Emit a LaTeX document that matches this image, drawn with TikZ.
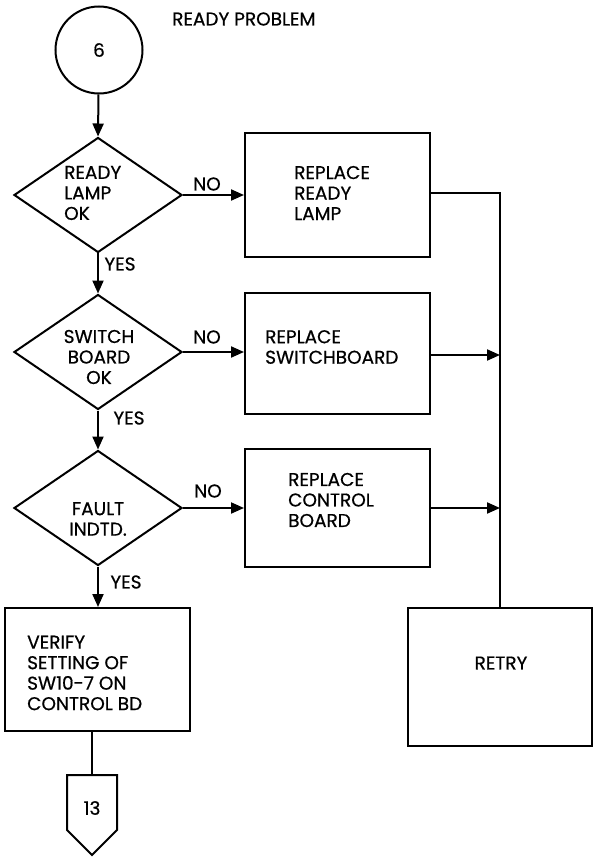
\documentclass[tikz,border=0pt]{standalone}
\usepackage{fontspec}
\setmainfont{Poppins}[UprightFeatures={FakeBold=0.6}]
\usetikzlibrary{shapes.geometric,arrows.meta}
\begin{document}
\begin{tikzpicture}[x=1pt,y=-1pt,
  every node/.style={font=\fontsize{18.5}{20.5}\selectfont},
  ln/.style={line width=2pt},
  arr/.style={ln,-{Triangle[length=13pt,width=11pt]}},
  box/.style={draw,line width=2pt,rectangle,inner sep=0pt},
  dia/.style={draw,line width=2pt,diamond,inner sep=0pt,minimum width=168pt,minimum height=115pt},
  txt/.style={align=left,inner sep=0pt},
  lbl/.style={inner sep=0pt}]
\useasboundingbox (0,0) rectangle (597,866);
% title
\node[lbl,anchor=west] (title) at (172,19) {READY PROBLEM};
% start circle
\node[draw,circle,line width=2pt,minimum size=87pt,inner sep=0pt] (start) at (99,50) {6};
% decisions
\node[dia] (d1) at (98,195) {};
\node[dia] (d2) at (98,352) {};
\node[dia] (d3) at (98,508) {};
\node[txt,anchor=west] (t1) at (64,193) {READY\\LAMP\\OK};
\node[txt,align=center] (t2) at (99,357) {SWITCH\\BOARD\\OK};
\node[txt,align=center] (t3) at (98,519) {FAULT\\INDTD.};
% boxes
\node[box,minimum width=185pt,minimum height=124pt] (b1) at (337.5,195) {};
\node[box,minimum width=185pt,minimum height=121pt] (b2) at (337.5,353.5) {};
\node[box,minimum width=185pt,minimum height=118pt] (b3) at (337.5,508) {};
\node[txt,anchor=west] (bt1) at (294,193) {REPLACE\\READY\\LAMP};
\node[txt,anchor=west] (bt2) at (265,347) {REPLACE\\SWITCHBOARD};
\node[txt,anchor=west] (bt3) at (288,500) {REPLACE\\CONTROL\\BOARD};
\node[box,minimum width=184pt,minimum height=138pt] (retry) at (500,677) {};
\node[lbl] (rt) at (501,663) {RETRY};
\node[box,minimum width=185pt,minimum height=123pt] (verify) at (97.5,669.5) {};
\node[txt,anchor=west] (vt) at (27,673) {VERIFY\\SETTING OF\\SW10-7 ON\\CONTROL BD};
% off-page connector
\draw[ln,line join=miter] (67,775) -- (117,775) -- (117,830) -- (92,855) -- (67,830) -- cycle;
\coordinate (conn) at (92,775);
\node[lbl] (n13) at (92,808) {13};
% junction coordinates
\coordinate (j1) at (500,193);
\coordinate (j2) at (500,355);
\coordinate (j3) at (500,508);
% connectors
\draw[arr] (start) -- (d1.north);
\draw[arr] (d1.south) -- (d2.north);
\draw[arr] (d2.south) -- (d3.north);
\draw[arr] (d3.south) -- (verify.north -| d3.south);
\draw[arr] (d1.east) -- (b1.west |- d1.east);
\draw[arr] (d2.east) -- (b2.west |- d2.east);
\draw[arr] (d3.east) -- (b3.west |- d3.east);
\draw[ln] (b1.east |- j1) -- (j1) -- (retry.north -| j1);
\draw[arr] (b2.east |- j2) -- (j2);
\draw[arr] (b3.east |- j3) -- (j3);
\draw[ln] (verify.south -| conn) -- (conn);
% labels
\node[lbl] (no1) at (207,184) {NO};
\node[lbl] (no2) at (207,337) {NO};
\node[lbl] (no3) at (208,491) {NO};
\node[lbl] (yes1) at (120,264) {YES};
\node[lbl] (yes2) at (129,418) {YES};
\node[lbl] (yes3) at (126,582) {YES};
\end{tikzpicture}
\end{document}
